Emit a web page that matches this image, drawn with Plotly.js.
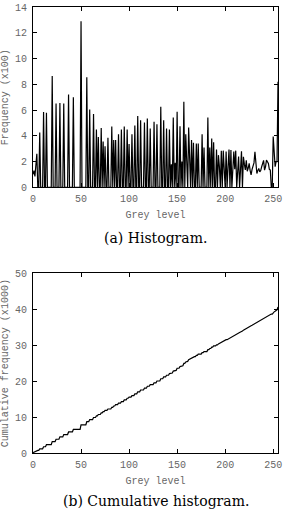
<!DOCTYPE html>
<html>
<head>
<meta charset="utf-8">
<script src="https://cdn.plot.ly/plotly-3.0.1.min.js"></script>
<style>
  html, body { margin: 0; padding: 0; background: #fff; }
  #chart { width: 284px; height: 510px; }
</style>
</head>
<body>
<div id="chart"></div>
<script>
// Grey levels 0..255 (categories of the histogram)
const greyLevels = Array.from({length: 256}, (_, i) => i);

// Histogram frequency (x100), one value per grey level
const histogram = [
  1.0, 1.3, 0.85, 1.5, 2.6, 0, 0, 4.25, 0, 0, 0, 5.85, 0, 0, 5.8, 0,
  0, 0, 0, 0, 8.65, 0, 0, 0, 6.5, 0, 0, 0, 6.55, 0, 0, 0,
  6.5, 0, 0, 0, 0, 7.2, 0, 0, 0, 0, 7.0, 0, 0, 0, 0, 0,
  0, 0, 12.9, 0, 0, 0, 0, 0, 8.55, 0, 0, 6.05, 0, 0, 0, 5.7,
  0, 0, 4.5, 0, 3.9, 0, 0, 4.6, 0, 3.55, 0, 3.2, 0, 0, 3.85, 0,
  0, 0, 4.72, 0, 3.67, 0, 3.67, 0, 0, 4.13, 0, 0, 4.5, 0, 0, 4.72,
  0, 0, 4.5, 0, 3.36, 0, 0, 4.13, 0, 0, 4.8, 0, 0, 5.53, 0, 0,
  5.2, 0, 0, 0, 5.04, 0, 0, 5.35, 0, 0, 4.57, 0, 0, 0, 5.1, 0,
  0, 4.9, 0, 0, 0, 6.25, 0, 0, 5.2, 0, 0, 4.57, 0, 0, 4.5, 0,
  1.8, 0, 5.42, 0, 1.9, 0, 5.86, 0, 0, 4.75, 0, 2.0, 0, 6.64, 0, 4.13,
  1.5, 0, 4.65, 1.6, 0, 3.67, 0, 3.46, 0, 0, 3.4, 0, 3.4, 0, 0, 0,
  4.13, 0, 3.1, 0, 0, 0, 5.42, 0, 3.1, 0, 3.8, 0, 3.5, 0, 0, 2.94,
  0, 2.5, 1.6, 0, 2.85, 0, 2.85, 1.6, 0, 2.78, 0, 1.6, 2.94, 0, 2.9, 0,
  1.5, 2.78, 1.4, 2.85, 0, 1.6, 2.4, 0, 1.5, 2.8, 0, 2.37, 1.8, 1.35, 2.1, 1.25,
  1.5, 1.86, 1.3, 0.96, 1.4, 1.6, 1.9, 2.76, 1.6, 1.08, 1.3, 1.47, 1.2, 1.3, 1.6, 1.8,
  2.1, 1.34, 1.6, 2.12, 1.9, 1.86, 1.4, 1.34, 0.05, 0, 3.95, 2.1, 1.6, 2.0, 2.0, 8.2
];

// Cumulative histogram (x1000) = running total of the histogram (x100)
const cumulative = [];
histogram.reduce((acc, v) => { const s = acc + v; cumulative.push(s / 10); return s; }, 0);

const xTicks = [0, 50, 100, 150, 200, 250];
const yTicksHist = [0, 2, 4, 6, 8, 10, 12, 14];
const yTicksCum = [0, 10, 20, 30, 40, 50];

const monoFont = {family: 'Liberation Mono, DejaVu Sans Mono, monospace', size: 10, color: '#666'};
const axisCommon = {
  ticks: 'inside', ticklen: 4, tickwidth: 1, tickcolor: '#000',
  showline: true, linecolor: '#000', linewidth: 1, mirror: 'ticks',
  showgrid: false, zeroline: false, tickfont: monoFont
};

const traces = [
  {x: greyLevels, y: histogram, type: 'scatter', mode: 'lines',
   line: {color: '#000', width: 1.2}, xaxis: 'x', yaxis: 'y', hoverinfo: 'skip'},
  {x: greyLevels, y: cumulative, type: 'scatter', mode: 'lines',
   line: {color: '#000', width: 1.2}, xaxis: 'x2', yaxis: 'y2', hoverinfo: 'skip'}
];

const layout = {
  width: 284, height: 510,
  margin: {l: 33, r: 6, t: 7, b: 57},
  paper_bgcolor: '#fff', plot_bgcolor: '#fff',
  showlegend: false,
  xaxis: Object.assign({}, axisCommon, {
    domain: [0, 1], anchor: 'y', range: [0, 255], tickvals: xTicks,
    ticklabelstandoff: 2,
    title: {text: 'Grey level', font: monoFont, standoff: 6}
  }),
  yaxis: Object.assign({}, axisCommon, {
    domain: [0.5956, 1], anchor: 'x', range: [0, 14], tickvals: yTicksHist,
    ticklabelstandoff: 3,
    title: {text: 'Frequency (x100)', font: monoFont, standoff: 6}
  }),
  xaxis2: Object.assign({}, axisCommon, {
    domain: [0, 1], anchor: 'y2', range: [0, 255], tickvals: xTicks,
    ticklabelstandoff: 2,
    title: {text: 'Grey level', font: monoFont, standoff: 6}
  }),
  yaxis2: Object.assign({}, axisCommon, {
    domain: [0, 0.403], anchor: 'x2', range: [0, 50], tickvals: yTicksCum,
    ticklabelstandoff: 3,
    title: {text: 'Cumulative frequency (x1000)', font: monoFont, standoff: 6}
  }),
  annotations: [
    {text: '(a) Histogram.', xref: 'paper', yref: 'paper', x: 0.5, y: 0.482,
     xanchor: 'center', yanchor: 'middle', showarrow: false,
     font: {family: 'DejaVu Serif, serif', size: 14, color: '#000'}},
    {text: '(b) Cumulative histogram.', xref: 'paper', yref: 'paper', x: 0.5, y: -0.107,
     xanchor: 'center', yanchor: 'middle', showarrow: false,
     font: {family: 'DejaVu Serif, serif', size: 14, color: '#000'}}
  ]
};

Plotly.newPlot('chart', traces, layout, {staticPlot: true, displayModeBar: false});
</script>
</body>
</html>
